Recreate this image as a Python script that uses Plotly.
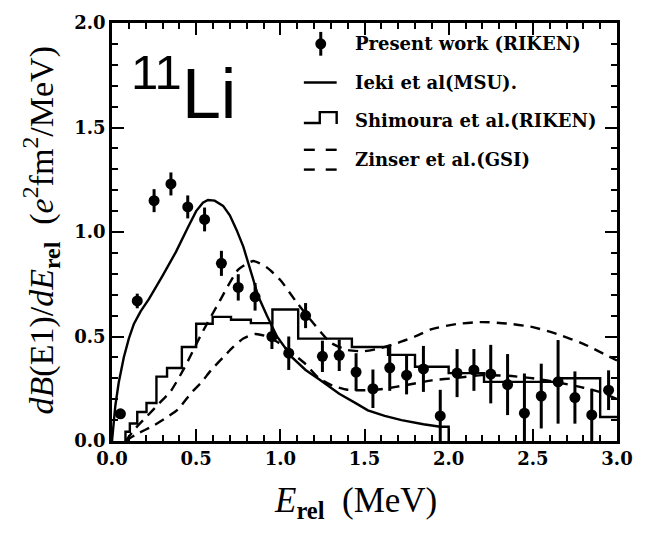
import plotly.graph_objects as go

# Measured dB(E1)/dE_rel, 11Li Coulomb dissociation (present work, RIKEN)
e_rel = [0.05, 0.15, 0.25, 0.35, 0.45, 0.55, 0.65, 0.75, 0.85, 0.95,
         1.05, 1.15, 1.25, 1.35, 1.45, 1.55, 1.65, 1.75, 1.85, 1.95,
         2.05, 2.15, 2.25, 2.35, 2.45, 2.55, 2.65, 2.75, 2.85, 2.95]
db_de = [0.13, 0.67, 1.15, 1.23, 1.12, 1.06, 0.85, 0.735, 0.69, 0.50,
         0.42, 0.60, 0.405, 0.41, 0.33, 0.25, 0.35, 0.315, 0.345, 0.12,
         0.325, 0.34, 0.32, 0.27, 0.133, 0.215, 0.283, 0.208, 0.125, 0.243]
db_err = [0.02, 0.035, 0.055, 0.055, 0.055, 0.057, 0.06, 0.063, 0.066, 0.06,
          0.08, 0.06, 0.075, 0.075, 0.09, 0.092, 0.11, 0.092, 0.11, 0.125,
          0.115, 0.10, 0.14, 0.146, 0.19, 0.155, 0.20, 0.125, 0.125, 0.095]

# Ieki et al. (MSU)
ieki_x = [0.0, 0.01, 0.02, 0.04, 0.07, 0.10, 0.13, 0.17, 0.22, 0.30, 0.38,
          0.45, 0.50, 0.54, 0.57, 0.61, 0.66, 0.70, 0.74, 0.78, 0.83, 0.87,
          0.92, 0.98, 1.07, 1.15, 1.23, 1.35, 1.45, 1.52, 1.62, 1.72, 1.85,
          1.95, 2.0, 2.0]
ieki_y = [0.0, 0.10, 0.17, 0.28, 0.40, 0.49, 0.56, 0.62, 0.68, 0.79, 0.905,
          1.02, 1.10, 1.14, 1.153, 1.15, 1.125, 1.08, 1.01, 0.93, 0.80, 0.69,
          0.60, 0.50, 0.40, 0.34, 0.295, 0.226, 0.18, 0.147, 0.12, 0.10, 0.08,
          0.068, 0.068, 0.0]

# Shimoura et al. (RIKEN) histogram: bin edges and contents
shim_edges = [0.08, 0.106, 0.15, 0.205, 0.264, 0.327, 0.415, 0.50, 0.598, 0.707,
              0.825, 0.953, 1.106, 1.425, 1.64, 1.80, 2.0, 2.21, 2.65, 2.90, 3.0]
shim_vals = [0.044, 0.084, 0.139, 0.182, 0.308, 0.349, 0.45, 0.561, 0.594, 0.58,
             0.564, 0.629, 0.49, 0.45, 0.412, 0.355, 0.325, 0.283, 0.30, 0.115]

# Zinser et al. (GSI), two curves
zin1_x = [0.08, 0.15, 0.21, 0.28, 0.35, 0.43, 0.53, 0.64, 0.75, 0.84, 0.92,
          1.00, 1.10, 1.20, 1.30, 1.40, 1.50, 1.60, 1.70, 1.80, 1.90, 2.05,
          2.20, 2.35, 2.50, 2.65, 2.80, 3.0]
zin1_y = [0.0, 0.07, 0.12, 0.18, 0.24, 0.35, 0.51, 0.67, 0.82, 0.861, 0.83,
          0.77, 0.66, 0.56, 0.47, 0.435, 0.43, 0.445, 0.47, 0.50, 0.535, 0.56,
          0.569, 0.562, 0.545, 0.51, 0.465, 0.385]
zin2_x = [0.08, 0.14, 0.25, 0.32, 0.39, 0.47, 0.53, 0.59, 0.66, 0.72, 0.78,
          0.85, 0.92, 0.99, 1.07, 1.15, 1.23, 1.31, 1.40, 1.50, 1.62, 1.75,
          1.90, 2.05, 2.20, 2.35, 2.50, 2.65, 2.80, 2.90, 3.0]
zin2_y = [0.0, 0.03, 0.075, 0.11, 0.15, 0.23, 0.28, 0.34, 0.40, 0.45, 0.49,
          0.512, 0.50, 0.47, 0.42, 0.368, 0.30, 0.265, 0.245, 0.243, 0.25, 0.268,
          0.29, 0.302, 0.315, 0.312, 0.30, 0.28, 0.255, 0.234, 0.20]

x_ticks = [0.0, 0.5, 1.0, 1.5, 2.0, 2.5, 3.0]
y_ticks = [0.0, 0.5, 1.0, 1.5, 2.0]

legend_labels = ["Present work (RIKEN)", "Ieki et al(MSU).",
                 "Shimoura et al.(RIKEN)", "Zinser et al.(GSI)"]

INK = "black"
LW = 2.4
DASH = "10px,7px"

fig = go.Figure()

# Histogram: start at zero on the first edge, hold the last value to the end
hist_x = [shim_edges[0]] + shim_edges
hist_y = [0.0] + shim_vals + [shim_vals[-1]]
fig.add_trace(go.Scatter(x=hist_x, y=hist_y, mode="lines", line_shape="hv",
                         line=dict(color=INK, width=LW), hoverinfo="skip"))

fig.add_trace(go.Scatter(x=zin1_x, y=zin1_y, mode="lines", line_shape="spline",
                         line=dict(color=INK, width=LW, dash=DASH, smoothing=0.6)))
fig.add_trace(go.Scatter(x=zin2_x, y=zin2_y, mode="lines", line_shape="spline",
                         line=dict(color=INK, width=LW, dash=DASH, smoothing=0.6)))

fig.add_trace(go.Scatter(x=ieki_x, y=ieki_y, mode="lines",
                         line=dict(color=INK, width=LW)))

fig.add_trace(go.Scatter(
    x=e_rel, y=db_de, mode="markers",
    marker=dict(color=INK, size=11),
    error_y=dict(type="data", array=db_err, color=INK, thickness=3, width=0),
))

# Plot frame in pixels
L, R, T, B = 112, 25, 19, 92
W, H = 645, 533
PW, PH = W - L - R, H - T - B


def px(xp):
    return (xp - L) / PW


def py(yp):
    return (H - B - yp) / PH


shapes = []
annotations = []

# Legend glyphs
gx0, gx1 = 305, 338
rows = [40, 79, 117, 157]
mx = 322
# point with error bar
shapes.append(dict(type="line", xref="paper", yref="paper",
                   x0=px(mx), x1=px(mx), y0=py(rows[0] - 12), y1=py(rows[0] + 12),
                   line=dict(color=INK, width=3)))
shapes.append(dict(type="circle", xref="paper", yref="paper",
                   x0=px(mx - 5.5), x1=px(mx + 5.5), y0=py(rows[0] + 5.5), y1=py(rows[0] - 5.5),
                   fillcolor=INK, line=dict(color=INK, width=0)))
# solid line
shapes.append(dict(type="line", xref="paper", yref="paper",
                   x0=px(gx0), x1=px(gx1), y0=py(rows[1]), y1=py(rows[1]),
                   line=dict(color=INK, width=LW)))
# step
step_pts = [(gx0, rows[2] + 3), (321, rows[2] + 3), (321, rows[2] - 8),
            (gx1, rows[2] - 8), (gx1, rows[2] + 4)]
path = "M " + " L ".join(f"{px(a):.5f},{py(b):.5f}" for a, b in step_pts)
shapes.append(dict(type="path", xref="paper", yref="paper", path=path,
                   line=dict(color=INK, width=LW)))
# two dashed rows
for dy in (-10, 10):
    for a, b in ((gx0, 316), (327, gx1)):
        shapes.append(dict(type="line", xref="paper", yref="paper",
                           x0=px(a), x1=px(b), y0=py(rows[3] + dy), y1=py(rows[3] + dy),
                           line=dict(color=INK, width=LW)))

for lab, r in zip(legend_labels, rows):
    annotations.append(dict(xref="paper", yref="paper", x=px(354), y=py(r),
                            xanchor="left", yanchor="middle", showarrow=False,
                            text=lab,
                            font=dict(family="DejaVu Serif", size=18, color=INK,
                                      weight="bold")))

# Nucleus label
annotations.append(dict(xref="paper", yref="paper", x=px(129), y=py(86),
                        xanchor="left", yanchor="middle", showarrow=False,
                        text="<sup>11</sup>Li",
                        font=dict(family="Liberation Sans", size=70, color=INK)))

# Axis titles
annotations.append(dict(xref="paper", yref="paper", x=px(357), y=py(503),
                        xanchor="center", yanchor="middle", showarrow=False,
                        text="<i>E</i><sub><b>rel</b></sub>  (MeV)",
                        font=dict(family="Liberation Serif", size=35, color=INK)))
annotations.append(dict(xref="paper", yref="paper", x=px(40), y=py(228),
                        xanchor="center", yanchor="middle", showarrow=False,
                        textangle=-90,
                        text="<i>dB</i>(E1)/<i>dE</i><sub><b>rel</b></sub>  (<i>e</i><sup>2</sup>fm<sup>2</sup>/MeV)",
                        font=dict(family="Liberation Serif", size=34, color=INK)))

axis_common = dict(
    showgrid=False, zeroline=False, showline=True, linecolor=INK, linewidth=2.5,
    mirror="allticks", ticks="inside", ticklen=12, tickwidth=2, tickcolor=INK,
    tickformat=".1f",
    tickfont=dict(family="DejaVu Serif", size=18, color=INK, weight="bold"),
    minor=dict(ticks="inside", ticklen=6, tickwidth=1.6, tickcolor=INK, dtick=0.1,
               showgrid=False),
)

fig.update_layout(
    width=W, height=H, autosize=False,
    margin=dict(l=L, r=R, t=T, b=B, pad=0),
    paper_bgcolor="white", plot_bgcolor="white",
    showlegend=False,
    xaxis=dict(range=[0, 3], tickvals=x_ticks, **axis_common),
    yaxis=dict(range=[0, 2], tickvals=y_ticks, **axis_common),
    shapes=shapes, annotations=annotations,
)

fig.write_html("out.html")
